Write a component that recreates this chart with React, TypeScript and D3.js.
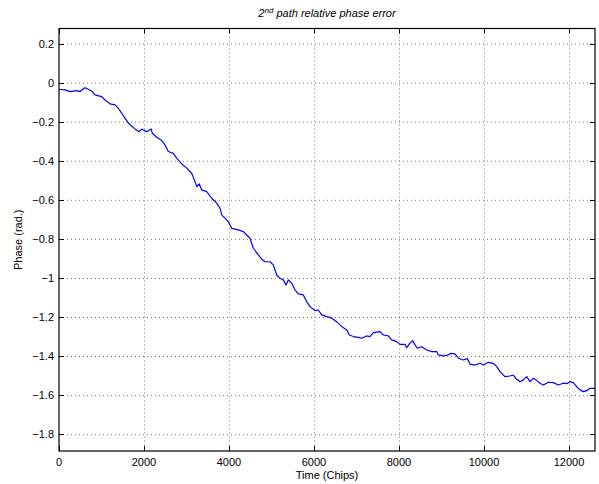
import * as d3 from "d3";
import React, { useEffect, useRef } from "react";

const chips = [
  0, 141, 259, 416, 494, 612, 689, 784, 847, 1005, 1082, 1200, 1318, 1395, 1475, 1537, 1647, 1788, 1882, 1946,
  2064, 2165, 2195, 2299, 2417, 2494, 2572, 2689, 2769, 2887, 3005, 3122, 3200, 3240, 3301, 3358, 3475, 3593,
  3711, 3788, 3828, 3906, 3984, 4064, 4219, 4337, 4417, 4494, 4572, 4690, 4770, 4847, 4965, 5042, 5123, 5200,
  5278, 5341, 5395, 5475, 5553, 5631, 5748, 5828, 5906, 6024, 6101, 6181, 6299, 6417, 6534, 6652, 6770, 6831,
  6925, 7043, 7123, 7240, 7318, 7396, 7553, 7631, 7748, 7828, 7946, 8024, 8141, 8181, 8259, 8323, 8377, 8431,
  8535, 8652, 8770, 8887, 8925, 9043, 9161, 9217, 9318, 9396, 9513, 9607, 9671, 9788, 9906, 9984, 10102, 10219,
  10299, 10377, 10494, 10612, 10690, 10770, 10847, 10925, 11005, 11083, 11160, 11224, 11318, 11396, 11513,
  11631, 11749, 11866, 11946, 12024, 12102, 12182, 12259, 12337, 12417, 12494, 12612,
];

const phase = [
  -0.034, -0.037, -0.046, -0.041, -0.046, -0.026, -0.034, -0.046, -0.063, -0.072, -0.089, -0.109, -0.114, -0.131,
  -0.157, -0.177, -0.211, -0.237, -0.251, -0.239, -0.251, -0.237, -0.259, -0.28, -0.297, -0.319, -0.353, -0.362,
  -0.387, -0.416, -0.438, -0.464, -0.507, -0.532, -0.519, -0.549, -0.558, -0.592, -0.617, -0.643, -0.677, -0.694,
  -0.712, -0.746, -0.754, -0.763, -0.78, -0.797, -0.848, -0.882, -0.904, -0.917, -0.917, -0.933, -0.985, -1.002,
  -1.01, -1.036, -1.01, -1.027, -1.061, -1.082, -1.087, -1.121, -1.147, -1.167, -1.164, -1.189, -1.198, -1.206,
  -1.224, -1.249, -1.266, -1.292, -1.3, -1.304, -1.309, -1.297, -1.3, -1.28, -1.275, -1.292, -1.297, -1.317,
  -1.326, -1.34, -1.34, -1.357, -1.334, -1.321, -1.343, -1.36, -1.352, -1.369, -1.377, -1.377, -1.394, -1.399,
  -1.394, -1.386, -1.389, -1.411, -1.42, -1.413, -1.441, -1.446, -1.437, -1.446, -1.432, -1.437, -1.454, -1.48,
  -1.505, -1.502, -1.497, -1.519, -1.531, -1.522, -1.505, -1.531, -1.514, -1.522, -1.539, -1.548, -1.534,
  -1.536, -1.548, -1.539, -1.541, -1.531, -1.536, -1.557, -1.573, -1.582, -1.577, -1.565, -1.565,
];

const xTicks = [0, 2000, 4000, 6000, 8000, 10000, 12000];
const yTicks = [0.2, 0, -0.2, -0.4, -0.6, -0.8, -1, -1.2, -1.4, -1.6, -1.8];

const W = 599;
const H = 484;
const left = 59;
const right = 595;
const top = 28.5;
const bottom = 451;
const font = "'Liberation Sans', Arial, Helvetica, sans-serif";

const App: React.FC = () => {
  const svgRef = useRef<SVGSVGElement>(null);

  useEffect(() => {
    const svg = d3.select(svgRef.current);
    svg.selectAll("*").remove();

    const x = d3.scaleLinear().domain([0, 12612]).range([left, right]);
    const y = d3.scaleLinear().domain([-1.886, 0.277]).range([bottom, top]);

    svg.append("rect").attr("x", 0).attr("y", 0).attr("width", W).attr("height", H).attr("fill", "#fff");

    // grid
    const grid = svg.append("g").attr("stroke", "#555").attr("stroke-width", 0.8).attr("stroke-dasharray", "1,3");
    grid
      .selectAll(".gx")
      .data(xTicks.slice(1))
      .join("line")
      .attr("x1", (d) => x(d) + 0.5)
      .attr("x2", (d) => x(d) + 0.5)
      .attr("y1", top)
      .attr("y2", bottom);
    grid
      .selectAll(".gy")
      .data(yTicks)
      .join("line")
      .attr("class", "gy")
      .attr("y1", (d) => y(d) + 0.5)
      .attr("y2", (d) => y(d) + 0.5)
      .attr("x1", left)
      .attr("x2", right);

    // inward ticks on all sides
    const tl = 5;
    const ticks = svg.append("g").attr("stroke", "#000").attr("stroke-width", 1);
    xTicks.forEach((t) => {
      const px = Math.round(x(t)) + 0.5;
      ticks.append("line").attr("x1", px).attr("x2", px).attr("y1", bottom).attr("y2", bottom - tl);
      ticks.append("line").attr("x1", px).attr("x2", px).attr("y1", top).attr("y2", top + tl);
    });
    yTicks.forEach((t) => {
      const py = Math.round(y(t)) + 0.5;
      ticks.append("line").attr("y1", py).attr("y2", py).attr("x1", left).attr("x2", left + tl);
      ticks.append("line").attr("y1", py).attr("y2", py).attr("x1", right).attr("x2", right - tl);
    });

    // data line
    const pts = chips.map((c, i) => [c, phase[i]] as [number, number]);
    const line = d3
      .line<[number, number]>()
      .x((d) => x(d[0]))
      .y((d) => y(d[1]));
    svg
      .append("path")
      .datum(pts)
      .attr("d", line)
      .attr("fill", "none")
      .attr("stroke", "#0000ff")
      .attr("stroke-width", 1.2)
      .attr("stroke-linejoin", "round");

    // box
    svg
      .append("rect")
      .attr("x", left)
      .attr("y", top)
      .attr("width", right - left)
      .attr("height", bottom - top)
      .attr("fill", "none")
      .attr("stroke", "#000")
      .attr("stroke-width", 1.2);

    // tick labels
    const labels = svg.append("g").attr("font-family", font).attr("font-size", 11).attr("fill", "#000");
    labels
      .selectAll(".xl")
      .data(xTicks)
      .join("text")
      .attr("x", (d) => x(d))
      .attr("y", bottom + 15)
      .attr("text-anchor", "middle")
      .text((d) => String(d));
    labels
      .selectAll(".yl")
      .data(yTicks)
      .join("text")
      .attr("class", "yl")
      .attr("x", left - 5)
      .attr("y", (d) => y(d) + 4)
      .attr("text-anchor", "end")
      .text((d) => (d < 0 ? "\u2212" + String(-d) : String(d)));

    // axis titles
    svg
      .append("text")
      .attr("x", (left + right) / 2)
      .attr("y", 479)
      .attr("text-anchor", "middle")
      .attr("font-family", font)
      .attr("font-size", 11)
      .text("Time (Chips)");
    svg
      .append("text")
      .attr("transform", `translate(22,${(top + bottom) / 2}) rotate(-90)`)
      .attr("text-anchor", "middle")
      .attr("font-family", font)
      .attr("font-size", 11)
      .text("Phase (rad.)");

    const title = svg
      .append("text")
      .attr("x", (left + right) / 2)
      .attr("y", 17)
      .attr("text-anchor", "middle")
      .attr("font-family", font)
      .attr("font-size", 11)
      .attr("font-style", "italic");
    title.append("tspan").text("2");
    title.append("tspan").attr("dy", -4).attr("font-size", 8).text("nd");
    title.append("tspan").attr("dy", 4).text(" path relative phase error");
  }, []);

  return (
    <div style={{ position: "absolute", left: 0, top: 0 }}>
      <svg ref={svgRef} width={W} height={H} />
    </div>
  );
};

export default App;
